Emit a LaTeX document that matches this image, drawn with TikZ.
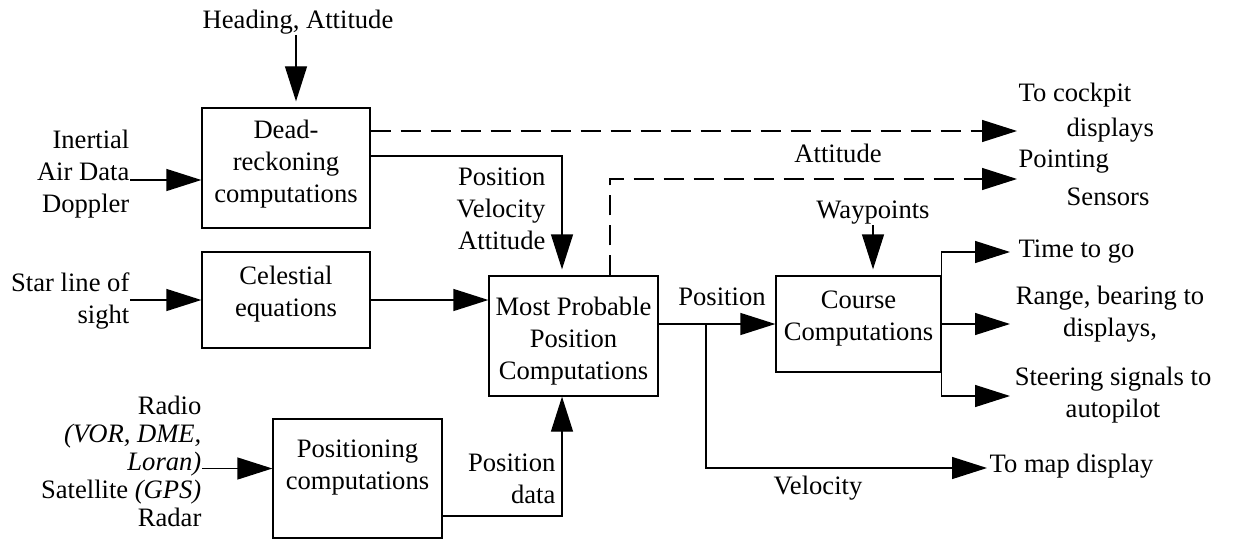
\documentclass[tikz,border=0pt]{standalone}
\usepackage{fontspec}
\setmainfont{Liberation Serif}
\usetikzlibrary{arrows.meta}
\begin{document}
\begin{tikzpicture}[x=0.5pt,y=-0.5pt,line width=0.65pt,
  box/.style={draw,line width=0.65pt,inner sep=0pt},
  txt/.style={inner sep=0pt,font=\fontsize{13.3pt}{16pt}\selectfont,align=center},
  tight/.style={font=\fontsize{13.3pt}{14pt}\selectfont},
  arr/.style={-{Triangle[length=17.5pt,width=11pt]}},
  dsh/.style={dash pattern=on 10pt off 5pt}]
\useasboundingbox (0,0) rectangle (1234,540);

% boxes
\node[box,minimum width=84pt,minimum height=60pt] (DR) at (286,168) {};
\node[txt] (DRt) at (286,164) {Dead-\\reckoning\\computations};
\node[box,minimum width=84pt,minimum height=48pt] (CE) at (286,300) {};
\node[txt] (CEt) at (286,294) {Celestial\\equations};
\node[box,minimum width=84.5pt,minimum height=59.5pt] (PO) at (357.5,478.5) {};
\node[txt] (POt) at (357.5,468) {Positioning\\computations};
\node[box,minimum width=84.5pt,minimum height=60pt] (MP) at (573.5,336) {};
\node[txt] (MPt) at (573.5,341.5) {Most Probable\\Position\\Computations};
\node[box,minimum width=82.5pt,minimum height=48pt] (CC) at (858.5,324) {};
\node[txt] (CCt) at (858.5,319) {Course\\Computations};

% inputs
\node[txt] (HA) at (298,22) {Heading, Attitude};
\coordinate (HAs) at (296,35);
\draw[arr,shorten >=3pt] (HAs) -- (HAs |- DR.north);

\node[txt,align=right,anchor=east] (IN) at (130,174) {Inertial\\Air Data\\Doppler};
\draw[arr] ([yshift=-6pt]DR.west -| IN.east) -- ([yshift=-6pt]DR.west);

\node[txt,align=right,anchor=east] (SL) at (130,301) {Star line of\\sight};
\draw[arr] (CE.west -| SL.east) -- (CE.west);

\node[txt,tight,align=right,anchor=east] (RA) at (202,461) {Radio\\\textit{(VOR, DME,}\\\textit{Loran)}\\Satellite \textit{(GPS)}\\Radar};
\draw[arr] ([yshift=5pt]PO.west -| RA.east) -- ([yshift=5pt]PO.west);

% to MPP
\draw[arr] (CE.east) -- (CE.east -| MP.west);
\draw[arr,shorten >=3pt] ([yshift=6pt]DR.east) -| ([xshift=-5.75pt]MP.north);
\node[txt,align=right,anchor=east] (PVA) at (546,208.5) {Position\\Velocity\\Attitude};
\draw[arr] ([yshift=-18.75pt]PO.east) -| ([xshift=-5.75pt]MP.south);
\node[txt,align=right,anchor=east] (PD) at (556,479) {Position\\data};

% dashed outputs
\coordinate (cock) at (1017,131);
\draw[arr,dsh] ([yshift=18.5pt]DR.east) -- (cock);
\coordinate (pnt) at (1017,179);
\draw[arr,dsh] ([xshift=18.25pt]MP.north) |- (pnt);
\node[txt] (AT) at (838,153) {Attitude};
\node[txt,anchor=west] (TC) at (1018,95) {To cockpit};
\node[txt,anchor=west] (DI) at (1066,130) {displays};
\node[txt,anchor=west] (PT) at (1018,162) {Pointing};
\node[txt,anchor=west] (SE) at (1066,197) {Sensors};

% course
\node[txt] (WP) at (873,213) {Waypoints};
\draw[arr,shorten >=3pt] (WP.south) -- (WP.south |- CC.north);
\draw[arr] ([yshift=6pt]MP.east) -- (CC.west);
\node[txt] (PS) at (722,297) {Position};
\coordinate (br) at (706,324);
\coordinate (map) at (987,468);
\draw[arr] (br) |- (map);
\node[txt,anchor=west] (TM) at (989,466) {To map display};
\node[txt] (VE) at (818,488) {Velocity};

\coordinate (tg) at (1010,252);
\coordinate (rb) at (1010,324);
\coordinate (sg) at (1010,396);
\draw[arr] (CC.north east) |- (tg);
\draw[arr] (CC.east) -- (rb);
\draw[arr] (CC.south east) |- (sg);
\node[txt,anchor=west] (TG) at (1018,252) {Time to go};
\node[txt] (RB) at (1110,314.5) {Range, bearing to\\displays,};
\node[txt] (SG) at (1113,395.5) {Steering signals to\\autopilot};
\end{tikzpicture}
\end{document}
